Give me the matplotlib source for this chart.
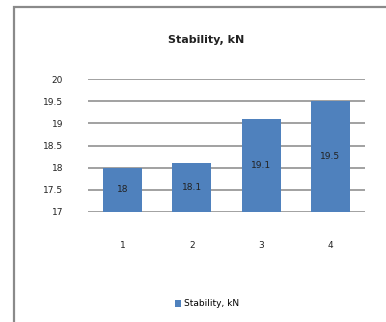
import matplotlib.pyplot as plt
from matplotlib.patches import Rectangle

# data
categories = ["1", "2", "3", "4"]
stability = [18.0, 18.1, 19.1, 19.5]
y_ticks = [17, 17.5, 18, 18.5, 19, 19.5, 20]
y_labels = ["17", "17.5", "18", "18.5", "19", "19.5", "20"]
series_name = "Stability, kN"

bar_color = "#4F81BD"
grid_color = "#9A9A9A"

fig = plt.figure(figsize=(3.86, 3.22), dpi=100)
fig.patch.set_facecolor("white")

# chart border (only top and left edges show in the crop)
fig.patches.append(Rectangle((14 / 386, -0.2), 1.2, 0.2 + 1 - 7 / 322,
                             transform=fig.transFigure, fill=False,
                             edgecolor="#8A8A8A", linewidth=1.6))

ax = fig.add_axes([88 / 386, 1 - 212 / 322, (365 - 88) / 386, (212 - 79) / 322])
x = range(len(categories))
bars = ax.bar(x, [v - 17 for v in stability], bottom=17, width=0.56,
              color=bar_color, label=series_name, zorder=3)
ax.bar_label(bars, labels=[f"{v:g}" for v in stability], label_type="center",
             fontsize=6.5, color="#222222")

ax.set_xlim(-0.5, len(categories) - 0.5)
ax.set_ylim(16.99, 20.01)
ax.set_yticks(y_ticks)
ax.set_yticklabels(y_labels, fontsize=6.5, color="#222222")
ax.set_xticks(list(x))
ax.set_xticklabels(categories, fontsize=6.5, color="#222222")
ax.tick_params(axis="y", length=0, pad=18)
ax.tick_params(axis="x", length=0, pad=21)
ax.grid(axis="y", color=grid_color, linewidth=1.3, zorder=0)
for s in ax.spines.values():
    s.set_visible(False)

fig.text(206 / 386, 1 - 40 / 322, "Stability, kN", ha="center", va="center",
         fontsize=8, fontweight="semibold", color="#222222")

fig.legend(handles=[bars], labels=[series_name], loc="center",
           bbox_to_anchor=(207 / 386, 1 - 304 / 322), frameon=False,
           fontsize=6.5, handlelength=0.7, handleheight=0.7, handletextpad=0.3)

fig.savefig("out.png", dpi=100)
